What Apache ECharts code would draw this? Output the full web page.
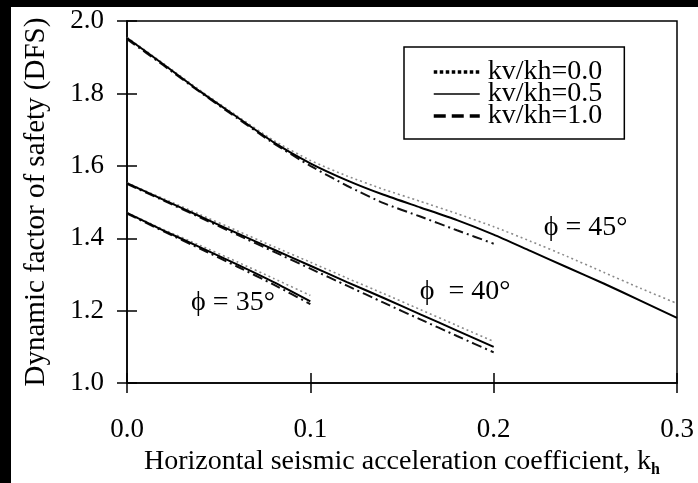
<!DOCTYPE html>
<html>
<head>
<meta charset="utf-8">
<script src="https://cdn.jsdelivr.net/npm/echarts@6/dist/echarts.min.js"></script>
<style>
html,body{margin:0;padding:0;background:#000;}
#panel{position:absolute;left:11px;top:7px;width:687px;height:476px;background:#fff;}
#chart{position:absolute;left:0;top:0;width:698px;height:483px;}
</style>
</head>
<body>
<div id="panel"></div>
<div id="chart"></div>
<script>
// ---- data ----
const legendNames = ['kv/kh=0.0', 'kv/kh=0.5', 'kv/kh=1.0'];
const xTicks = ['0.0', '0.1', '0.2', '0.3'];
const yTicks = ['1.0', '1.2', '1.4', '1.6', '1.8', '2.0'];

const kh45 = [0, 0.02, 0.04, 0.06, 0.08, 0.10, 0.12, 0.14, 0.16, 0.18, 0.20, 0.22, 0.24, 0.26, 0.28, 0.30];
const kh45b = [0, 0.02, 0.04, 0.06, 0.08, 0.10, 0.12, 0.14, 0.16, 0.18, 0.20];
const kh40 = [0, 0.02, 0.04, 0.06, 0.08, 0.10, 0.12, 0.14, 0.16, 0.18, 0.20];
const kh35 = [0, 0.02, 0.04, 0.06, 0.08, 0.10];

const dfs45_00 = [1.955, 1.882, 1.808, 1.738, 1.670, 1.615, 1.572, 1.535, 1.502, 1.468, 1.432, 1.392, 1.350, 1.306, 1.262, 1.220];
const dfs45_05 = [1.953, 1.880, 1.805, 1.735, 1.665, 1.607, 1.560, 1.520, 1.485, 1.450, 1.410, 1.365, 1.320, 1.275, 1.228, 1.180];
const dfs45_10 = [1.950, 1.877, 1.803, 1.732, 1.662, 1.600, 1.545, 1.497, 1.460, 1.422, 1.385];

const dfs40_00 = [1.553, 1.509, 1.465, 1.421, 1.377, 1.334, 1.290, 1.247, 1.203, 1.159, 1.115];
const dfs40_05 = [1.552, 1.506, 1.460, 1.414, 1.369, 1.324, 1.279, 1.235, 1.190, 1.145, 1.100];
const dfs40_10 = [1.550, 1.504, 1.457, 1.410, 1.363, 1.316, 1.269, 1.222, 1.176, 1.130, 1.085];

const dfs35_00 = [1.471, 1.424, 1.380, 1.335, 1.289, 1.242];
const dfs35_05 = [1.470, 1.421, 1.375, 1.328, 1.279, 1.226];
const dfs35_10 = [1.468, 1.419, 1.371, 1.322, 1.272, 1.218];

const annoText = ['\u03D5 = 45\u00B0', '\u03D5  = 40\u00B0', '\u03D5 = 35\u00B0'];
const annoKh = [0.2501, 0.1844, 0.0578];
const annoDfs = [1.430, 1.2536, 1.221];

// ---- build ----
const FONT = '"Liberation Serif", "Times New Roman", serif';
function pairs(xs, ys) { return xs.map((x, i) => [x, ys[i]]); }

const styles = {
  'kv/kh=0.0': { color: '#8a8a8a', type: [2, 3], width: 1.6 },
  'kv/kh=0.5': { color: '#000', type: 'solid', width: 2 },
  'kv/kh=1.0': { color: '#111', type: [10, 4, 2, 4], width: 2 }
};
function lineSeries(name, xs, ys, z) {
  return {
    type: 'line', name: name, data: pairs(xs, ys), symbol: 'none', smooth: 0.2,
    lineStyle: Object.assign({}, styles[name]), itemStyle: { color: styles[name].color },
    z: z, silent: true, animation: false
  };
}

const series = [
  lineSeries('kv/kh=0.0', kh45, dfs45_00, 2),
  lineSeries('kv/kh=0.0', kh40, dfs40_00, 2),
  lineSeries('kv/kh=0.0', kh35, dfs35_00, 2),
  lineSeries('kv/kh=1.0', kh45b, dfs45_10, 3),
  lineSeries('kv/kh=1.0', kh40, dfs40_10, 3),
  lineSeries('kv/kh=1.0', kh35, dfs35_10, 3),
  lineSeries('kv/kh=0.5', kh45, dfs45_05, 4),
  lineSeries('kv/kh=0.5', kh40, dfs40_05, 4),
  lineSeries('kv/kh=0.5', kh35, dfs35_05, 4),
  {
    type: 'scatter', name: 'annotations', symbolSize: 0, silent: true, animation: false,
    itemStyle: { color: '#000', opacity: 1 },
    data: annoText.map((t, i) => ({ name: t, value: [annoKh[i], annoDfs[i]] })),
    label: { show: true, position: 'inside', formatter: p => p.name, fontFamily: FONT, fontSize: 28,
      color: '#000', opacity: 1, textBorderWidth: 0, textBorderColor: 'transparent' }
  }
];

const noSymbol = { color: 'rgba(0,0,0,0)', borderColor: 'rgba(0,0,0,0)', borderWidth: 0, opacity: 0 };
const axisLineStyle = { color: '#000', width: 1.5 };
const option = {
  backgroundColor: 'transparent',
  animation: false,
  grid: { left: 127, right: 21, top: 21, bottom: 93.5, show: true, borderColor: '#000', borderWidth: 1.5, backgroundColor: 'transparent' },
  legend: {
    orient: 'vertical', left: 404, top: 47,
    padding: [11, 22, 9, 28],
    borderColor: '#000', borderWidth: 1.5, backgroundColor: '#fff',
    itemWidth: 46, itemHeight: 14, itemGap: -6, selectedMode: false,
    itemStyle: noSymbol,
    textStyle: { fontFamily: FONT, fontSize: 28, color: '#000', padding: [0, 0, 0, 3] },
    data: [
      { name: legendNames[0], itemStyle: noSymbol, lineStyle: { color: '#000', type: [3.5, 2.5], width: 3.5, opacity: 1 } },
      { name: legendNames[1], itemStyle: noSymbol, lineStyle: { color: '#000', type: 'solid', width: 1.5, opacity: 1 } },
      { name: legendNames[2], itemStyle: noSymbol, lineStyle: { color: '#000', type: [12, 6], width: 3.5, opacity: 1 } }
    ]
  },
  xAxis: [
    {
      type: 'value', min: 0, max: 0.3, interval: 0.1,
      axisLine: { show: true, lineStyle: axisLineStyle },
      axisTick: { show: true, inside: true, length: 10, lineStyle: axisLineStyle },
      splitLine: { show: false },
      axisLabel: { margin: 33, fontFamily: FONT, fontSize: 27, color: '#000', formatter: v => xTicks[Math.round(v * 10)] },
      name: 'Horizontal seismic acceleration coefficient, k{sub|h}',
      nameLocation: 'middle', nameGap: 64,
      nameTextStyle: { fontFamily: FONT, fontSize: 28, color: '#000',
        rich: { sub: { fontFamily: FONT, fontSize: 16, fontWeight: 'bold', color: '#000', verticalAlign: 'bottom', padding: [0, 0, -2, 0] } } }
    },
    {
      type: 'value', min: 0, max: 0.3, interval: 0.1, position: 'bottom',
      axisLine: { show: false },
      axisTick: { show: true, inside: false, length: 10, lineStyle: axisLineStyle },
      splitLine: { show: false }, axisLabel: { show: false }
    }
  ],
  yAxis: [
    {
      type: 'value', min: 1, max: 2, interval: 0.2,
      axisLine: { show: true, lineStyle: axisLineStyle },
      axisTick: { show: true, inside: true, length: 10, lineStyle: axisLineStyle },
      splitLine: { show: false },
      axisLabel: { margin: 23, fontFamily: FONT, fontSize: 27, color: '#000', formatter: v => yTicks[Math.round((v - 1) * 5)] },
      name: 'Dynamic factor of safety (DFS)',
      nameLocation: 'middle', nameGap: 76,
      nameTextStyle: { fontFamily: FONT, fontSize: 29, color: '#000' }
    },
    {
      type: 'value', min: 1, max: 2, interval: 0.2, position: 'left',
      axisLine: { show: false },
      axisTick: { show: true, inside: false, length: 10, lineStyle: axisLineStyle },
      splitLine: { show: false }, axisLabel: { show: false }
    }
  ],
  series: series
};

const chart = echarts.init(document.getElementById('chart'), null, { renderer: 'canvas' });
chart.setOption(option);
</script>
</body>
</html>
